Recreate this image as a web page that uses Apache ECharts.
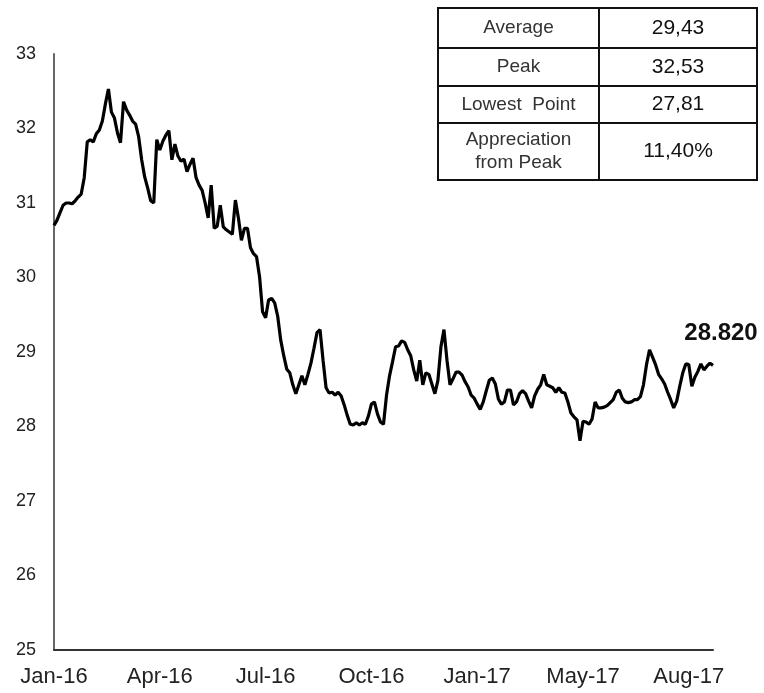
<!DOCTYPE html>
<html>
<head>
<meta charset="utf-8">
<script src="https://cdn.jsdelivr.net/npm/echarts@6/dist/echarts.min.js"></script>
<style>
  html, body { margin: 0; padding: 0; background: #fff; }
  #main { width: 764px; height: 693px; }
</style>
</head>
<body>
<div id="main"></div>
<script>
// values, one every ~2 trading days
var prices = [
  30.70, 30.77, 30.87, 30.97, 31.00, 31.00, 30.99, 31.03, 31.08, 31.12,
  31.34, 31.82, 31.85, 31.82, 31.93, 31.98, 32.10, 32.33, 32.53, 32.22,
  32.14, 31.94, 31.81, 32.36, 32.25, 32.18, 32.10, 32.06, 31.89, 31.58,
  31.35, 31.20, 31.03, 31.00, 31.85, 31.71, 31.83, 31.91, 31.97, 31.58,
  31.79, 31.63, 31.56, 31.59, 31.42, 31.52, 31.60, 31.34, 31.24, 31.17,
  31.00, 30.80, 31.24, 30.66, 30.69, 30.97, 30.68, 30.64, 30.61, 30.58,
  31.04, 30.80, 30.50, 30.66, 30.66, 30.40, 30.32, 30.28, 30.01, 29.54,
  29.46, 29.70, 29.72, 29.66, 29.48, 29.16, 28.95, 28.77, 28.72, 28.56,
  28.44, 28.56, 28.68, 28.56, 28.70, 28.85, 29.05, 29.26, 29.30, 28.89,
  28.52, 28.45, 28.46, 28.42, 28.46, 28.41, 28.29, 28.15, 28.03, 28.02,
  28.05, 28.02, 28.05, 28.03, 28.14, 28.30, 28.33, 28.17, 28.06, 28.03,
  28.42, 28.68, 28.87, 29.07, 29.08, 29.15, 29.13, 29.03, 28.95, 28.76,
  28.61, 28.89, 28.56, 28.72, 28.70, 28.57, 28.44, 28.62, 29.07, 29.30,
  28.89, 28.56, 28.64, 28.73, 28.73, 28.69, 28.60, 28.53, 28.42, 28.38,
  28.30, 28.23, 28.33, 28.48, 28.62, 28.65, 28.57, 28.37, 28.30, 28.33,
  28.49, 28.49, 28.29, 28.33, 28.44, 28.48, 28.44, 28.34, 28.25, 28.41,
  28.50, 28.56, 28.70, 28.56, 28.54, 28.52, 28.46, 28.52, 28.46, 28.45,
  28.33, 28.18, 28.13, 28.09, 27.81, 28.07, 28.06, 28.03, 28.10, 28.33,
  28.25, 28.25, 28.26, 28.28, 28.32, 28.36, 28.46, 28.49, 28.38, 28.33,
  28.32, 28.33, 28.36, 28.36, 28.40, 28.56, 28.83, 29.03, 28.93, 28.83,
  28.70, 28.64, 28.57, 28.46, 28.36, 28.25, 28.34, 28.54, 28.72, 28.84,
  28.83, 28.54, 28.66, 28.74, 28.84, 28.76, 28.81, 28.85, 28.82
];

var tickLabels = ['Jan-16', 'Apr-16', 'Jul-16', 'Oct-16', 'Jan-17', 'May-17', 'Aug-17'];
var labelStep = 35;
var yTicks = [25, 33, 1]; // min, max, step

var statNames = ['Average', 'Peak', 'Lowest  Point', 'Appreciation\nfrom Peak'];
var statValues = ['29,43', '32,53', '27,81', '11,40%'];

var categories = prices.map(function (p, i) { return String(i); });
var lastIdx = prices.length - 1;

// stats table, top right
var tbl = { left: 438, right: 757, mid: 599, rows: [8, 48, 86, 123, 180] };
var graphics = [];
graphics.push({
  type: 'rect',
  shape: { x: tbl.left, y: tbl.rows[0], width: tbl.right - tbl.left, height: tbl.rows[4] - tbl.rows[0] },
  style: { fill: '#fff', stroke: '#111', lineWidth: 2 }
});
graphics.push({
  type: 'line',
  shape: { x1: tbl.mid, y1: tbl.rows[0], x2: tbl.mid, y2: tbl.rows[4] },
  style: { stroke: '#111', lineWidth: 2 }
});
for (var r = 0; r < statNames.length; r++) {
  if (r > 0) {
    graphics.push({
      type: 'line',
      shape: { x1: tbl.left, y1: tbl.rows[r], x2: tbl.right, y2: tbl.rows[r] },
      style: { stroke: '#111', lineWidth: 2 }
    });
  }
  var cy = (tbl.rows[r] + tbl.rows[r + 1]) / 2;
  graphics.push({
    type: 'text',
    x: (tbl.left + tbl.mid) / 2, y: cy,
    style: {
      text: statNames[r], align: 'center', verticalAlign: 'middle',
      fontFamily: 'Liberation Sans', fontSize: 19, lineHeight: 23, fill: '#333'
    }
  });
  graphics.push({
    type: 'text',
    x: (tbl.mid + tbl.right) / 2, y: cy,
    style: {
      text: statValues[r], align: 'center', verticalAlign: 'middle',
      fontFamily: 'Liberation Sans', fontSize: 21, fill: '#111'
    }
  });
}

var myChart = echarts.init(document.getElementById('main'));
myChart.setOption({
  animation: false,
  grid: { left: 54, right: 51, top: 54, bottom: 43 },
  xAxis: {
    type: 'category',
    data: categories,
    boundaryGap: false,
    axisLine: { lineStyle: { color: '#333', width: 2 } },
    axisTick: { show: false },
    axisLabel: {
      interval: labelStep - 1,
      margin: 16,
      fontFamily: 'Liberation Sans',
      fontSize: 22,
      color: '#222',
      formatter: function (val, idx) { return tickLabels[idx / labelStep] || ''; }
    },
    splitLine: { show: false }
  },
  yAxis: {
    type: 'value',
    min: yTicks[0],
    max: yTicks[1],
    interval: yTicks[2],
    axisLine: { show: true, lineStyle: { color: '#666', width: 2 } },
    axisTick: { show: false },
    axisLabel: {
      margin: 18,
      fontFamily: 'Liberation Sans',
      fontSize: 18,
      color: '#222'
    },
    splitLine: { show: false }
  },
  series: [{
    type: 'line',
    data: prices,
    symbol: 'none',
    lineStyle: { color: '#000', width: 3.2 },
    z: 3,
    markPoint: {
      symbol: 'circle',
      symbolSize: 0,
      data: [{ coord: [categories[lastIdx], prices[lastIdx]], value: prices[lastIdx] }],
      label: {
        show: true,
        position: 'top',
        distance: 20,
        offset: [8, 0],
        formatter: function (d) { return d.value.toFixed(3); },
        fontFamily: 'Liberation Sans',
        fontWeight: 'bold',
        fontSize: 24,
        color: '#111'
      }
    }
  }],
  graphic: graphics
});
</script>
</body>
</html>
